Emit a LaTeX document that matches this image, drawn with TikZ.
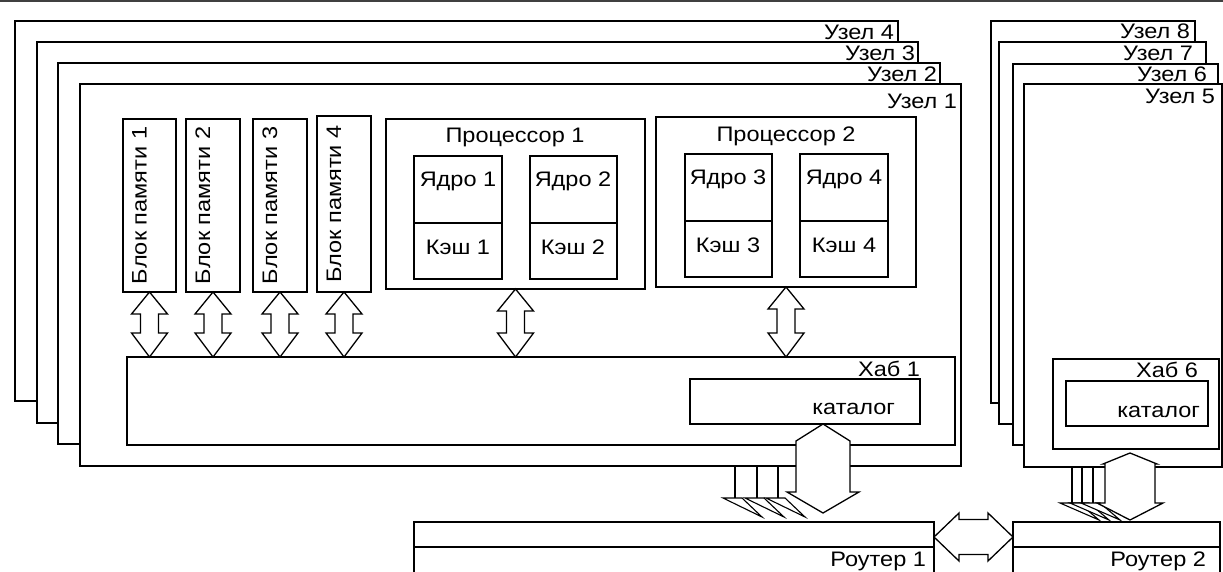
\documentclass[tikz,border=0pt]{standalone}
\usepackage{fontspec}
\setmainfont[FakeStretch=1.12]{Liberation Sans}
\usetikzlibrary{calc}
\tikzset{
  box/.style={draw, fill=white, line width=1.3pt, inner sep=0pt, outer sep=0pt, anchor=north west},
  lbl/.style={inner sep=0pt, outer sep=0pt, font=\fontsize{21}{21}\selectfont},
  arr/.style={draw, fill=white, line width=1.3pt, line join=miter},
  thin arr/.style={draw, fill=white, line width=1.1pt, line join=miter},
}
\newcommand\boxat[6][]{\node[box,minimum width={#5-#3},minimum height={#6-#4},#1] (#2) at (#3,#4) {};}
% vertical double arrow: #1 top tip, #2 bottom tip, #3 half shaft, #4 half top head, #5 top head length, #6 half bottom head, #7 bottom head length
\newcommand\vdarrow[7]{%
  \path[arr] let \p1=(#1), \p2=(#2) in
    (\x1,\y1) -- ({\x1-#4pt},{\y1-#5pt}) -- ({\x1-#3pt},{\y1-#5pt}) -- ({\x1-#3pt},{\y2+#7pt})
    -- ({\x1-#6pt},{\y2+#7pt}) -- (\x1,\y2) -- ({\x1+#6pt},{\y2+#7pt}) -- ({\x1+#3pt},{\y2+#7pt})
    -- ({\x1+#3pt},{\y1-#5pt}) -- ({\x1+#4pt},{\y1-#5pt}) -- cycle;}
% horizontal double arrow: #1 left tip, #2 right tip, #3 half shaft, #4 half head, #5 head length
\newcommand\hdarrow[5]{%
  \path[arr] let \p1=(#1), \p2=(#2) in
    (\x1,\y1) -- ({\x1+#5pt},{\y1+#4pt}) -- ({\x1+#5pt},{\y1+#3pt}) -- ({\x2-#5pt},{\y1+#3pt})
    -- ({\x2-#5pt},{\y1+#4pt}) -- (\x2,\y1) -- ({\x2-#5pt},{\y1-#4pt}) -- ({\x2-#5pt},{\y1-#3pt})
    -- ({\x1+#5pt},{\y1-#3pt}) -- ({\x1+#5pt},{\y1-#4pt}) -- cycle;}
% small skewed arrow: #1 start, #2 length of line, #3 head drop
\newcommand\skewarr[3]{%
  \draw[line width=1.3pt] (#1) -- ++(0,#2) coordinate (#1e);
  \path[thin arr] (#1e) ++(-12,0) -- ++(19,0) -- ++(20,#3) -- cycle;}
\begin{document}
\begin{tikzpicture}[x=1pt,y=-1pt]
\useasboundingbox (0,0) rectangle (1223,572);
% frame line at top
\draw[line width=1.2pt, black!75] (0,1) -- (1223,1);

% ---- left stack of nodes ----
\boxat{n4}{15}{21}{898}{401}
\node[lbl, anchor=base east] (ln4) at (894,40) {Узел 4};
\boxat{n3}{37}{42}{918}{423}
\node[lbl, anchor=base east] (ln3) at (915,61) {Узел 3};
\boxat{n2}{58}{63}{940}{444}
\node[lbl, anchor=base east] (ln2) at (937,82) {Узел 2};
\boxat{n1}{80}{84}{961}{466}
\node[lbl, anchor=base east] (ln1) at (957,109) {Узел 1};

% memory blocks
\boxat[line width=1.8pt]{m1}{123}{119}{176}{292}
\boxat[line width=1.8pt]{m2}{186}{119}{240}{292}
\boxat[line width=1.8pt]{m3}{253}{119}{307}{292}
\boxat[line width=1.8pt]{m4}{317}{116}{371}{292}
\node[lbl, rotate=90, anchor=base] (tm1) at ([xshift=-3pt]m1.center) {Блок памяти 1};
\node[lbl, rotate=90, anchor=base] (tm2) at ([xshift=-3pt]m2.center) {Блок памяти 2};
\node[lbl, rotate=90, anchor=base] (tm3) at ([xshift=-3pt]m3.center) {Блок памяти 3};
\node[lbl, rotate=90, anchor=base] (tm4) at ([xshift=-3pt]m4.center) {Блок памяти 4};

% processors
\boxat[line width=2.2pt]{p1}{386}{119}{645}{289}
\boxat[line width=2.2pt]{p2}{656}{117}{916}{287}
\node[lbl, anchor=base] (tp1) at (515,143) {Процессор 1};
\node[lbl, anchor=base] (tp2) at (786,142) {Процессор 2};
% cores
\boxat[line width=2.2pt]{c1}{414}{156}{502}{223}
\boxat[line width=2.2pt]{k1}{414}{223}{502}{279}
\boxat[line width=2.2pt]{c2}{530}{156}{617}{223}
\boxat[line width=2.2pt]{k2}{530}{223}{617}{279}
\boxat[line width=2.2pt]{c3}{685}{154}{772}{221}
\boxat[line width=2.2pt]{k3}{685}{221}{772}{277}
\boxat[line width=2.2pt]{c4}{800}{154}{888}{221}
\boxat[line width=2.2pt]{k4}{800}{221}{888}{277}
\node[lbl, anchor=base] (tc1) at (458,187) {Ядро 1};
\node[lbl, anchor=base] (tk1) at (458,254) {Кэш 1};
\node[lbl, anchor=base] (tc2) at (573,187) {Ядро 2};
\node[lbl, anchor=base] (tk2) at (573,254) {Кэш 2};
\node[lbl, anchor=base] (tc3) at (728,185) {Ядро 3};
\node[lbl, anchor=base] (tk3) at (728,252) {Кэш 3};
\node[lbl, anchor=base] (tc4) at (844,185) {Ядро 4};
\node[lbl, anchor=base] (tk4) at (844,252) {Кэш 4};

% hub 1
\boxat[line width=1.2pt]{hub1}{127}{357}{955}{445}
\node[lbl, anchor=base east] (th1) at (920,376) {Хаб 1};
\boxat[line width=1.8pt]{cat1}{690}{379}{920}{424}
\node[lbl, anchor=base east] (tcat1) at (895,414) {каталог};

% arrows memory/processors -> hub
\vdarrow{m1.south}{m1.south |- hub1.north}{9}{18}{22}{18}{24}
\vdarrow{m2.south}{m2.south |- hub1.north}{9}{18}{22}{18}{24}
\vdarrow{m3.south}{m3.south |- hub1.north}{9}{18}{22}{18}{24}
\vdarrow{m4.south}{m4.south |- hub1.north}{9}{18}{22}{18}{24}
\vdarrow{p1.south}{p1.south |- hub1.north}{9}{18}{22}{18}{24}
\vdarrow{p2.south}{p2.south |- hub1.north}{9}{18}{22}{18}{24}

% ---- right stack of nodes ----
\boxat{n8}{991}{21}{1195}{403}
\node[lbl, anchor=base east] (ln8) at (1190,39) {Узел 8};
\boxat{n7}{999}{42}{1206}{424}
\node[lbl, anchor=base east] (ln7) at (1193,61) {Узел 7};
\boxat{n6}{1013}{64}{1218}{445}
\node[lbl, anchor=base east] (ln6) at (1207,82) {Узел 6};
\boxat{n5}{1024}{84}{1222}{467}
\node[lbl, anchor=base east] (ln5) at (1215,104) {Узел 5};
\boxat[line width=2.5pt]{hub6}{1053}{359}{1219}{449}
\node[lbl, anchor=base east] (th6) at (1198,377) {Хаб 6};
\boxat[line width=1.8pt]{cat6}{1066}{381}{1208}{426}
\node[lbl, anchor=base east] (tcat6) at (1200,417) {каталог};

% ---- routers ----
\boxat[line width=1.5pt]{r1}{414}{522}{934}{576}
\draw[line width=2.5pt] ([yshift=-25pt]r1.north west) -- ([yshift=-25pt]r1.north east);
\node[lbl, anchor=base east] (tr1) at (926,566) {Роутер 1};
\boxat[line width=1.5pt]{r2}{1013}{522}{1220}{576}
\draw[line width=2.5pt] ([yshift=-25pt]r2.north west) -- ([yshift=-25pt]r2.north east);
\node[lbl, anchor=base east] (tr2) at (1206,566) {Роутер 2};

% small arrows from nodes 2-4 to routers
\coordinate (sa) at (735,466);
\coordinate (sb) at (757,466);
\coordinate (sc) at (778,466);
\skewarr{sa}{32}{19}
\skewarr{sb}{32}{19}
\skewarr{sc}{32}{19}
\coordinate (sd) at (1072,467);
\coordinate (se) at (1082,467);
\coordinate (sf) at (1093,467);
\skewarr{sd}{36}{17}
\skewarr{se}{36}{17}
\skewarr{sf}{36}{17}

% directory <-> router arrows
\coordinate (bigA) at ([xshift=18pt]cat1.south);
\coordinate (bigB0) at (bigA |- r1.north);
\coordinate (bigB) at ([yshift=9pt]bigB0);
\vdarrow{bigA}{bigB}{27}{27}{17}{36}{21}
\coordinate (bigC) at ([xshift=-6pt,yshift=-4pt]hub6.south);
\coordinate (bigD0) at (bigC |- r2.north);
\coordinate (bigD) at ([yshift=2pt]bigD0);
\vdarrow{bigC}{bigD}{25}{27}{11}{33}{17}

% router <-> router
\coordinate (ha) at ([yshift=-15pt]r1.north east);
\coordinate (hb) at ([yshift=-15pt]r2.north west);
\hdarrow{ha}{hb}{17.5}{24}{25}
\end{tikzpicture}
\end{document}
